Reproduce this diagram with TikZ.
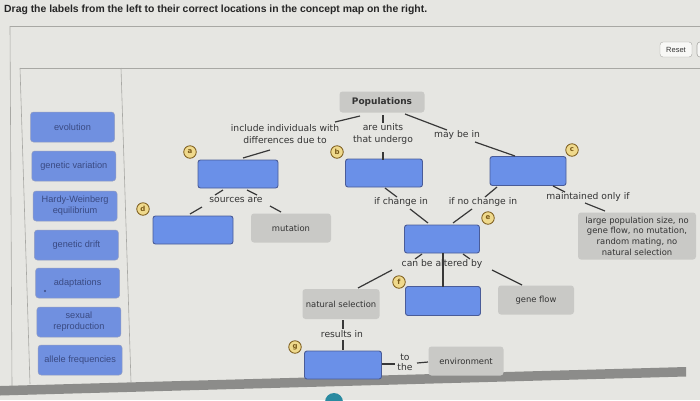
\documentclass[tikz,border=0pt]{standalone}
\usepackage{fontspec}
\setmainfont{Liberation Sans}
\newfontfamily\dvs{DejaVu Sans}
\usetikzlibrary{calc}
\definecolor{bg}{HTML}{E6E6E2}
\definecolor{blueF}{HTML}{6A90E8}
\definecolor{blueD}{HTML}{4A5C98}
\definecolor{lblF}{HTML}{7090E0}
\definecolor{lblT}{HTML}{3A4A82}
\definecolor{grayF}{HTML}{C9C9C6}
\definecolor{lineC}{HTML}{383838}
\definecolor{txt}{HTML}{333333}
\definecolor{frameC}{HTML}{A8A8A4}
\definecolor{mkF}{HTML}{EFD98C}
\definecolor{mkD}{HTML}{7A5A1A}
\definecolor{barC}{HTML}{8C8C8A}
\definecolor{tealC}{HTML}{2A8AA0}
\begin{document}
\begin{tikzpicture}[x=1pt,y=-1pt,
  target/.style={draw=blueD, fill=blueF, rounded corners=2.5pt, line width=0.9pt, minimum width=77pt, minimum height=28pt, inner sep=0pt},
  concept/.style={fill=grayF, rounded corners=3pt, minimum width=77pt, minimum height=29pt, inner sep=0pt, font=\dvs\fontsize{8.4}{9}\selectfont, text=txt},
  tag/.style={draw=blueD!60, fill=lblF, rounded corners=3pt, line width=0.5pt, minimum width=84pt, minimum height=30pt, inner sep=0pt, font=\fontsize{9.2}{11}\selectfont, text=lblT, align=center},
  linklbl/.style={font=\dvs\fontsize{9.2}{12}\selectfont, text=txt, inner sep=0pt, align=center},
  conn/.style={draw=lineC, line width=1.2pt},
  marker/.style={circle, draw=mkD, fill=mkF, line width=0.8pt, minimum size=12.5pt, inner sep=0pt, font=\dvs\bfseries\fontsize{7}{7}\selectfont, text=mkD},
  frame/.style={draw=frameC, line width=0.6pt}]
\useasboundingbox (0,0) rectangle (700,400);
\fill[bg] (0,0) rectangle (700,400);
% frames
\draw[frame] (10,26) -- (700,26);
\draw[frame] (10,26) -- (12,386);
\draw[frame] (20,68) -- (30,384);
\draw[frame] (20,68) -- (700,68);
\draw[frame] (121,68) -- (131,382);
% title and buttons
\node[anchor=west, font=\bfseries\fontsize{10.4}{12}\selectfont, text=black!85, inner sep=0pt] (title) at (4,10) {Drag the labels from the left to their correct locations in the concept map on the right.};
\node[draw=frameC, fill=white!70!bg, rounded corners=3pt, minimum width=32pt, minimum height=15pt, inner sep=0pt, font=\fontsize{7.5}{8}\selectfont, text=txt] (reset) at (676,49.5) {Reset};
\draw[frame, fill=white!70!bg, rounded corners=3pt] (697,42) rectangle (720,57);
% bottom bar
\fill[barC] (0,386) -- (686,367) -- (686,376.5) -- (0,395.5) -- cycle;
\fill[tealC] (334,402) circle (9);
% left labels
\node[tag] (t1) at (72.5,127) {evolution};
\node[tag] (t2) at (73.8,166) {genetic variation};
\node[tag] (t3) at (75.1,206) {Hardy-Weinberg\\equilibrium};
\node[tag] (t4) at (76.4,245) {genetic drift};
\node[tag] (t5) at (77.6,283) {adaptations};
\fill[lblT] (45,291) circle (1.2);
\node[tag] (t6) at (78.9,322) {sexual\\reproduction};
\node[tag] (t7) at (80.1,360) {allele frequencies};
% concept map nodes
\node[concept, minimum width=85pt, minimum height=21pt, font=\dvs\bfseries\fontsize{9}{10}\selectfont] (pop) at (382,102) {Populations};
\node[linklbl] (inclL) at (285,134) {include individuals with\\differences due to};
\node[linklbl] (unitsL) at (383,134) {are units\\that undergo};
\node[linklbl] (mayL) at (457,135) {may be in};
\node[target, minimum width=80pt] (boxa) at (238,174) {};
\node[target] (boxb) at (384,173) {};
\node[target, minimum width=76pt, minimum height=29pt] (boxc) at (528,171) {};
\node[target, minimum width=80pt] (boxd) at (193,230) {};
\node[concept, minimum width=80pt] (mut) at (291,228) {mutation};
\node[linklbl] (srcL) at (236,200) {sources are};
\node[linklbl] (chgL) at (401,202) {if change in};
\node[linklbl] (nochgL) at (483,202) {if no change in};
\node[linklbl] (maintL) at (588,197) {maintained only if};
\node[concept, minimum width=118pt, minimum height=47pt, align=center, font=\dvs\fontsize{8.4}{10.7}\selectfont] (large) at (637,236) {large population size, no\\gene flow, no mutation,\\random mating, no\\natural selection};
\node[target, minimum width=75pt] (boxm) at (442,239) {};
\node[linklbl] (altL) at (442,264) {can be altered by};
\node[target, minimum width=75pt, minimum height=29pt] (boxf) at (443,301) {};
\node[concept, minimum height=30pt] (nat) at (341,304) {natural selection};
\node[concept, minimum width=76pt] (gene) at (536,300) {gene flow};
\node[linklbl] (resL) at (342,334) {results in};
\node[target] (boxg) at (343,365) {};
\node[linklbl, font=\dvs\fontsize{9.2}{10}\selectfont] (toL) at (405,362) {to\\the};
\node[concept, minimum width=75pt] (env) at (466,361) {environment};
% connectors
\draw[conn] ($(pop)+(-22,14)$) -- ($(inclL)+(50,-12)$);
\draw[conn] ($(inclL)+(-15,16)$) -- ($(boxa)+(5,-16)$);
\draw[conn] ($(pop)+(1,13)$) -- ($(unitsL)+(0,-11)$);
\draw[conn] ($(unitsL)+(0,18)$) -- ($(boxb)+(-1,-13)$);
\draw[conn] ($(pop)+(23,12)$) -- ($(mayL)+(-10,-5)$);
\draw[conn] ($(mayL)+(18,7)$) -- ($(boxc)+(-13,-15)$);
\draw[conn] ($(boxa)+(-15,16)$) -- ($(srcL)+(-21,-5)$);
\draw[conn] ($(boxa)+(9,16)$) -- ($(srcL)+(21,-5)$);
\draw[conn] ($(srcL)+(-34,7)$) -- ($(boxd)+(-3,-16)$);
\draw[conn] ($(srcL)+(34,6)$) -- ($(mut)+(-10,-16)$);
\draw[conn] ($(boxb)+(1,15)$) -- ($(chgL)+(-4,-5)$);
\draw[conn] ($(chgL)+(9,7)$) -- ($(boxm)+(-14,-16)$);
\draw[conn] ($(boxc)+(-31,16)$) -- ($(nochgL)+(2,-5)$);
\draw[conn] ($(nochgL)+(-11,7)$) -- ($(boxm)+(11,-16)$);
\draw[conn] ($(boxc)+(25,15)$) -- ($(maintL)+(-23,-5)$);
\draw[conn] ($(maintL)+(-3,6)$) -- ($(large)+(-32,-25)$);
\draw[conn] ($(boxm)+(-20,15)$) -- ($(altL)+(-27,-5)$);
\draw[conn] ($(boxm)+(1,14)$) -- ($(boxf)+(0,-14.5)$);
\draw[conn] ($(boxm)+(21,15)$) -- ($(altL)+(28,-5)$);
\draw[conn] ($(altL)+(-50,6)$) -- ($(nat)+(17,-16)$);
\draw[conn] ($(altL)+(50,6)$) -- ($(gene)+(-14,-15)$);
\draw[conn] ($(nat)+(2,16)$) -- ($(resL)+(1,-5)$);
\draw[conn] ($(resL)+(1,6)$) -- ($(boxg)+(0,-15)$);
\draw[conn] ($(boxg)+(39,-1)$) -- ($(toL)+(-10,2)$);
\draw[conn] ($(toL)+(12,1)$) -- ($(env)+(-38,1)$);
% markers
\node[marker] (ma) at (190,152) {a};
\node[marker] (mb) at (337,152) {b};
\node[marker] (mc) at (572,150) {c};
\node[marker] (md) at (143,209) {d};
\node[marker] (me) at (488,218) {e};
\node[marker] (mf) at (399,282) {f};
\node[marker] (mg) at (295,347) {g};
\end{tikzpicture}
\end{document}
